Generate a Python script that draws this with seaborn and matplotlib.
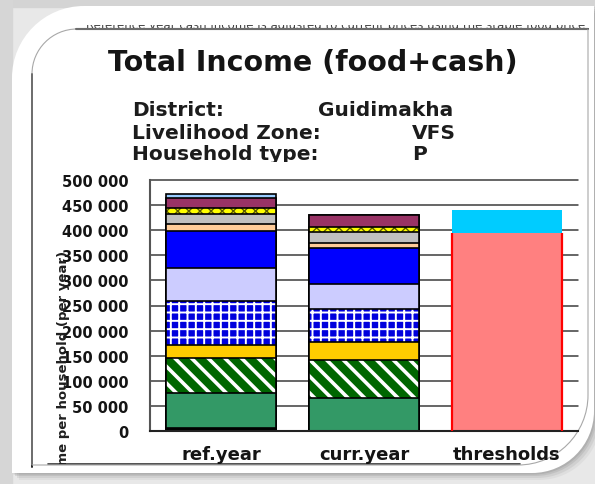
import numpy as np
import pandas as pd
import matplotlib
matplotlib.use("Agg")
import matplotlib.pyplot as plt
import matplotlib.transforms as mtransforms
from matplotlib.path import Path
from matplotlib.patches import PathPatch, Rectangle
import seaborn as sns

# ---------------- data ----------------
categories = ["ref.year", "curr.year", "thresholds"]
segments = ["other", "own crops", "crop sales", "livestock products", "livestock sales",
            "labour", "self-employment", "small trade", "gifts", "wild foods",
            "remittances", "misc"]
ref_values = [5000, 70000, 70000, 27000, 87000, 66000, 74000, 13000, 21000, 12000, 20000, 8000]
curr_values = [0, 65000, 76000, 36000, 66000, 49000, 73000, 10000, 22000, 10000, 24000, 0]
threshold_names = ["survival", "livelihood protection"]
threshold_values = [395000, 45000]
y_ticks = [0, 50000, 100000, 150000, 200000, 250000, 300000, 350000, 400000, 450000, 500000]

title = "Total Income (food+cash)"
info_labels = ["District:", "Livelihood Zone:", "Household type:"]
info_values = ["Guidimakha", "VFS", "P"]
y_label = "Income per household (per year)"
top_note = ("Reference year cash income is adjusted to current prices using the staple "
            "food price index for the current year")

# ---------------- styles ----------------
seg_colors = ["#000000", "#339966", "#006600", "#FFCC00", "#0000DD", "#CCCCFF",
              "#0000FF", "#FFCC99", "#C0C0C0", "#FFFF00", "#993366", "#99CCFF"]
seg_hatch = [None, None, "\\\\", None, "++", None, None, None, None, "xxx", None, None]
seg_hatch_color = [None, None, "white", None, "white", None, None, None, None, "#5a5a00", None, None]
seg_hatch_lw = [None, None, 2.6, None, 1.4, None, None, None, None, 1.0, None, None]
thr_colors = ["#FF8080", "#00CCFF"]

W, H = 595, 485
sns.set_style("white")
plt.rcParams["font.family"] = ["DejaVu Sans"]
TXT = "#141414"

fig = plt.figure(figsize=(W / 100, H / 100), dpi=100, facecolor="#e8e8e8")
PX = mtransforms.Affine2D().scale(1 / W, -1 / H).translate(0, 1) + fig.transFigure


def rounded_diag(x0, y0, x1, y1, r1, r2):
    k = 0.5523
    verts = [(x0, y1), (x0, y0 + r1),
             (x0, y0 + r1 - k * r1), (x0 + r1 - k * r1, y0), (x0 + r1, y0),
             (x1, y0), (x1, y1 - r2),
             (x1, y1 - r2 + k * r2), (x1 - r2 + k * r2, y1), (x1 - r2, y1),
             (x0, y1), (x0, y1)]
    codes = [Path.MOVETO, Path.LINETO,
             Path.CURVE4, Path.CURVE4, Path.CURVE4,
             Path.LINETO, Path.LINETO,
             Path.CURVE4, Path.CURVE4, Path.CURVE4,
             Path.LINETO, Path.CLOSEPOLY]
    return Path(verts, codes)


# background strips and shadow
fig.patches.append(Rectangle((0, 0), W, 8, transform=PX, color="#d4d4d4", zorder=0))
fig.patches.append(Rectangle((0, 0), 12, H, transform=PX, color="#d6d6d6", zorder=0))
for off, a in [(7, 0.08), (5, 0.12), (3, 0.16), (1.5, 0.2)]:
    sp = rounded_diag(12 + off, 7 + off, 594 + off, 474 + off, 72, 62)
    fig.patches.append(PathPatch(sp, transform=PX, facecolor="#707070", edgecolor="none",
                                 alpha=a, zorder=0.5))
frame_path = rounded_diag(12, 7, 594, 474, 72, 62)
fig.patches.append(PathPatch(frame_path, transform=PX, facecolor="white", edgecolor="none",
                             zorder=1))

# inner picture outline (rounded top-left and bottom-right)
inner_path = rounded_diag(32, 30, 588, 466, 45, 70)
clip_inner = PathPatch(inner_path, transform=PX, facecolor="none", edgecolor="none")
fig.patches.append(PathPatch(inner_path, transform=PX, facecolor="none", edgecolor="#a8a8a8",
                             lw=0.8, zorder=2))
fig.lines.append(plt.Line2D([32, 32], [75, 468], transform=PX, color="#222222", lw=1.4, zorder=2))
fig.lines.append(plt.Line2D([76, 588], [30, 30], transform=PX, color="#222222", lw=1.5, zorder=2))
fig.lines.append(plt.Line2D([48, 520], [465, 465], transform=PX, color="#333333", lw=1.2, zorder=2))

# cut-off note line at the top
t = fig.text(86, 29, top_note, transform=PX, fontsize=8.5, color="#444444",
             ha="left", va="baseline", zorder=3)
t.set_clip_path(Rectangle((84, 25.5), 504, 3.5, transform=PX))

# titles
fig.text(313, 71.5, title, transform=PX, fontsize=20.5, fontweight="bold", color=TXT,
         ha="center", va="baseline", zorder=3)
base_y = [115.7, 139.5, 160.5]
val_x = [318, 412, 412]
for lab, val, by, vx in zip(info_labels, info_values, base_y, val_x):
    t1 = fig.text(132, by, lab, transform=PX, fontsize=14.5, fontweight="bold",
                  color="#1c1c1c", ha="left", va="baseline", zorder=3)
    t2 = fig.text(vx, by, val, transform=PX, fontsize=14.5, fontweight="bold",
                  color="#1c1c1c", ha="left", va="baseline", zorder=3)
    for tt in (t1, t2):
        tt.set_clip_path(Rectangle((0, 90), W, 73, transform=PX))

# ---------------- axes ----------------
ax = fig.add_axes([150 / W, 1 - 432 / H, 428 / W, 251 / H])
ax.set_facecolor("none")
ax.set_zorder(4)

cum_ref = np.cumsum(ref_values)
cum_curr = np.cumsum(curr_values)
n = len(segments)
bw = 0.77

for i in reversed(range(n)):
    d = pd.DataFrame({"category": categories, "top": [cum_ref[i], cum_curr[i], 0]})
    common = dict(data=d, x="category", y="top", order=categories, width=bw,
                  errorbar=None, ax=ax)
    if seg_hatch[i] is None:
        sns.barplot(**common, color=seg_colors[i], saturation=1, edgecolor="black",
                    linewidth=1.2)
    else:
        sns.barplot(**common, color=seg_colors[i], saturation=1, linewidth=0)
        before = len(ax.patches)
        with plt.rc_context({"hatch.linewidth": seg_hatch_lw[i]}):
            sns.barplot(**common, fill=False, color=seg_hatch_color[i],
                        hatch=seg_hatch[i], linewidth=0)
        for p in ax.patches[before:]:
            if hasattr(p, "set_hatch_linewidth"):
                p.set_hatch_linewidth(seg_hatch_lw[i])
        sns.barplot(**common, fill=False, color="black", linewidth=1.2)

# thresholds bar
cum_thr = np.cumsum(threshold_values)
for j in reversed(range(len(threshold_values))):
    d = pd.DataFrame({"category": categories, "top": [0, 0, cum_thr[j]]})
    before = len(ax.patches)
    sns.barplot(data=d, x="category", y="top", order=categories, width=bw, errorbar=None,
                color=thr_colors[j], saturation=1, linewidth=0, ax=ax)
    if j == 0:
        for p in ax.patches[before:]:
            if p.get_height() > 0:
                x0, w_, h_ = p.get_x(), p.get_width(), p.get_height()
                ax.vlines([x0, x0 + w_], 0, h_, colors="#FF0000", lw=1.6, zorder=3)

ax.set_xlim(-0.5, 2.5)
ax.set_ylim(0, 500000)
ax.set_yticks(y_ticks, labels=[f"{v:,}".replace(",", " ") for v in y_ticks])
ax.yaxis.grid(True, color="#3c3c3c", lw=1.1)
ax.set_axisbelow(True)
for gl in ax.get_ygridlines():
    gl.set_clip_on(False)
ax.set_xlabel("")
ax.set_ylabel("")
for s in ["top", "right"]:
    ax.spines[s].set_visible(False)
ax.spines["left"].set_color("#555555")
ax.spines["left"].set_linewidth(1.5)
ax.spines["bottom"].set_color("#222222")
ax.spines["bottom"].set_linewidth(1.5)

ax.tick_params(axis="y", direction="inout", length=12, width=1.2, color="#333333",
               pad=9.5, labelsize=10.5, labelcolor=TXT)
for lab in ax.get_yticklabels():
    lab.set_fontweight("bold")
ax.set_xticks(range(len(categories)), labels=categories)
ax.set_xticks([0.5, 1.5], minor=True)
ax.tick_params(axis="x", which="major", length=0, pad=10, labelsize=13, labelcolor=TXT)
ax.tick_params(axis="x", which="minor", length=5, width=1.2, direction="out", color="#222222")
for tk in ax.xaxis.get_major_ticks():
    tk.label1.set_fontweight("bold")
    tk.label1.set_clip_on(True)
    tk.label1.set_clip_path(clip_inner)

# y label (partly cut off at the bottom)
yl = fig.text(64, 374, y_label, transform=PX, rotation=90, fontsize=9.5, fontweight="bold",
              color="#202020", ha="center", va="center", zorder=5)
yl.set_clip_path(Rectangle((0, 170), W, 295, transform=PX))

fig.savefig("out.png", dpi=100, facecolor=fig.get_facecolor())
